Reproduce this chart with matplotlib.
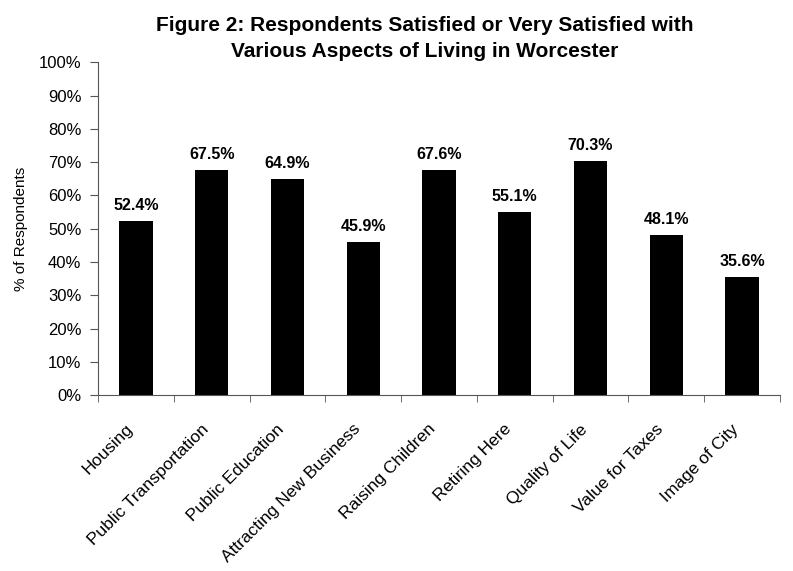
import numpy as np
import matplotlib.pyplot as plt
from matplotlib.ticker import FixedLocator, PercentFormatter

# survey results: share of respondents satisfied or very satisfied
categories = ['Housing', 'Public Transportation', 'Public Education',
              'Attracting New Business', 'Raising Children', 'Retiring Here',
              'Quality of Life', 'Value for Taxes', 'Image of City']
satisfied = [52.4, 67.5, 64.9, 45.9, 67.6, 55.1, 70.3, 48.1, 35.6]

plt.rcParams['font.family'] = ['Liberation Sans', 'DejaVu Sans']

fig = plt.figure(figsize=(7.93, 5.71), dpi=100)
ax = fig.add_axes([0.1236, 0.308, 0.86, 0.583])

x = np.arange(len(categories))
ax.bar(x, satisfied, width=0.44, color='black')

for xi, v in zip(x, satisfied):
    ax.text(xi, v + 2.4, f'{v:.1f}%', ha='center', va='bottom',
            fontsize=11.5, fontweight='bold')

ax.set_xlim(-0.5, len(categories) - 0.5)
ax.set_ylim(0, 100)
ax.set_yticks(np.arange(0, 101, 10))
ax.yaxis.set_major_formatter(PercentFormatter(decimals=0))

# label anchors sit a bit left of the bar centres so the slanted text ends under the bar
ax.set_xticks(x - 0.145)
ax.set_xticklabels(categories, rotation=45, ha='right', rotation_mode='anchor',
                   fontsize=12.5)
ax.xaxis.set_minor_locator(FixedLocator(np.arange(-0.5, len(categories), 1)))
ax.tick_params(axis='x', which='major', length=0, pad=19)
ax.tick_params(axis='x', which='minor', length=5, direction='out', color='#555555')
ax.tick_params(axis='y', length=6, direction='out', labelsize=12, pad=6,
               color='#555555')

for side in ['top', 'right']:
    ax.spines[side].set_visible(False)
for side in ['left', 'bottom']:
    ax.spines[side].set_color('#555555')

ax.set_ylabel('% of Respondents', fontsize=11, labelpad=8)
fig.text(0.535, 0.972, 'Figure 2: Respondents Satisfied or Very Satisfied with\n'
         'Various Aspects of Living in Worcester',
         ha='center', va='top', fontsize=15, fontweight='bold', linespacing=1.45)

fig.savefig('out.png', dpi=100)
